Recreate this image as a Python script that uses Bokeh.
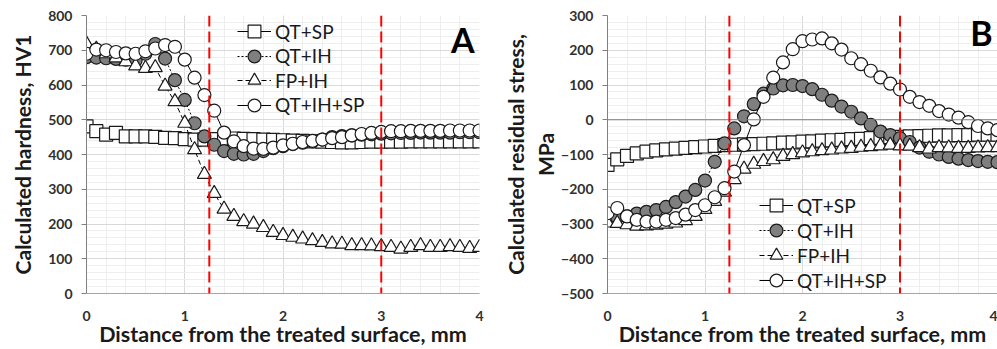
from bokeh.plotting import figure
from bokeh.models import Span, Label, Legend, LegendItem, SingleIntervalTicker, Range1d
from bokeh.layouts import row
from bokeh.embed import file_html
from bokeh.resources import INLINE

# ---------------- data ----------------
depth_mm = [0.0, 0.1, 0.2, 0.3, 0.4, 0.5, 0.6, 0.7, 0.8, 0.9,
            1.0, 1.1, 1.2, 1.3, 1.4, 1.5, 1.6, 1.7, 1.8, 1.9,
            2.0, 2.1, 2.2, 2.3, 2.4, 2.5, 2.6, 2.7, 2.8, 2.9,
            3.0, 3.1, 3.2, 3.3, 3.4, 3.5, 3.6, 3.7, 3.8, 3.9, 4.0]

series_names = ["QT+SP", "QT+IH", "FP+IH", "QT+IH+SP"]

# Panel A: calculated hardness, HV1
hard_qt_sp = [481, 467, 457, 462, 452, 452, 452, 451, 448, 447,
              444, 443, 443, 444, 445, 446, 445, 444, 443, 442,
              441, 440, 439, 438, 437, 436, 435, 435, 436, 437,
              437, 437, 437, 438, 438, 438, 438, 438, 438, 438, 438]
hard_qt_ih = [680, 679, 677, 675, 673, 671, 690, 718, 676, 614,
              557, 490, 452, 428, 410, 402, 400, 402, 410, 418,
              424, 430, 434, 438, 443, 450, 453, 455, 457, 458,
              460, 461, 462, 462, 463, 463, 463, 463, 464, 464, 464]
hard_fp_ih = [718, 703, 690, 678, 667, 655, 648, 650, 597, 552,
              490, 414, 343, 288, 243, 222, 207, 200, 190, 176,
              167, 162, 157, 152, 147, 143, 142, 138, 138, 137,
              135, 133, 128, 133, 138, 133, 133, 135, 133, 130, 133]
hard_qt_ih_sp = [690, 702, 700, 695, 691, 690, 697, 705, 715, 710,
                 673, 621, 571, 526, 463, 438, 424, 417, 416, 420,
                 426, 431, 436, 439, 443, 447, 450, 455, 459, 462,
                 465, 467, 467, 468, 468, 468, 468, 469, 469, 469, 469]

# Panel B: calculated residual stress, MPa
stress_qt_sp = [-130, -114, -104, -97, -92, -88, -85, -83, -81, -79,
                -77, -75, -73, -72, -71, -70, -69, -68, -66, -65,
                -63, -62, -60, -59, -58, -56, -55, -53, -52, -50,
                -49, -48, -47, -46, -45, -45, -44, -44, -43, -43, -43]
stress_qt_ih = [-280, -281, -278, -270, -265, -260, -251, -237, -221, -202,
                -175, -121, -68, -25, 10, 45, 75, 90, 99, 100,
                97, 88, 72, 55, 38, 23, 4, -15, -34, -44,
                -53, -64, -80, -92, -100, -107, -112, -116, -119, -121, -122]
stress_fp_ih = [-297, -298, -302, -306, -305, -303, -300, -297, -290, -278,
                -258, -235, -208, -172, -142, -128, -120, -115, -105, -100,
                -95, -92, -89, -87, -84, -82, -79, -77, -75, -73,
                -75, -76, -80, -84, -80, -81, -82, -82, -81, -80, -80]
stress_qt_ih_sp = [-269, -254, -278, -288, -293, -293, -288, -283, -273, -260,
                   -246, -223, -197, -149, -73, 1, 66, 121, 165, 203,
                   226, 231, 234, 220, 202, 177, 160, 141, 122, 104,
                   87, 66, 51, 40, 25, 15, 6, -7, -18, -25, -30]

zone_limits_mm = [1.25, 3.0]

x_axis_title = "Distance from the treated surface, mm"

# ---------------- style ----------------
FONT = "Lato"
styles = {
    "QT+SP":    dict(marker="square", fill="white",   dash="solid", size=13),
    "QT+IH":    dict(marker="circle", fill="#7f7f7f", dash="2 2",   size=13),
    "FP+IH":    dict(marker="triangle", fill="white", dash="5 3",   size=14),
    "QT+IH+SP": dict(marker="circle", fill="white",   dash="solid", size=13),
}


def make_panel(width, border_left, border_right, y0, y1, ylabel, series,
               letter, letter_x, letter_y, legend_x, legend_y0, legend_pitch,
               ylabel_standoff, zero_line=False):
    p = figure(width=width, height=349, output_backend="svg", toolbar_location=None,
               x_range=Range1d(0, 4), y_range=Range1d(y0, y1),
               min_border_left=border_left, min_border_right=border_right,
               min_border_top=15, min_border_bottom=54)
    p.outline_line_color = None
    p.background_fill_color = "white"

    p.xaxis.ticker = SingleIntervalTicker(interval=1, num_minor_ticks=5)
    p.yaxis.ticker = SingleIntervalTicker(interval=100, num_minor_ticks=5)

    for g in (p.xgrid, p.ygrid):
        g.grid_line_color = "#d9d9d9"
        g.grid_line_width = 1
        g.minor_grid_line_color = "#eeeeee"
        g.minor_grid_line_width = 1

    p.xaxis.axis_line_color = "#a6a6a6"
    p.xaxis.major_tick_line_color = None
    p.xaxis.minor_tick_line_color = None
    p.xaxis.major_label_standoff = 11
    p.xaxis.axis_label = x_axis_title
    p.xaxis.axis_label_standoff = -3

    p.yaxis.axis_line_color = "#808080"
    p.yaxis.major_tick_line_color = "#808080"
    p.yaxis.major_tick_out = 5
    p.yaxis.major_tick_in = 0
    p.yaxis.minor_tick_line_color = None
    p.yaxis.major_label_standoff = 9
    p.yaxis.axis_label = ylabel
    p.yaxis.axis_label_standoff = ylabel_standoff

    for ax in (p.xaxis, p.yaxis):
        ax.major_label_text_font = FONT
        ax.major_label_text_font_style = "bold"
        ax.major_label_text_font_size = "14px"
        ax.major_label_text_color = "#303030"
        ax.axis_label_text_font = FONT
        ax.axis_label_text_font_style = "bold"
        ax.axis_label_text_color = "#1a1a1a"
    p.xaxis.axis_label_text_font_size = "21.5px"
    p.yaxis.axis_label_text_font_size = "21px"

    if zero_line:
        p.add_layout(Span(location=0, dimension="width", line_color="#808080", line_width=1))

    for z in zone_limits_mm:
        p.add_layout(Span(location=z, dimension="height", line_color="#ff0000",
                          line_width=2, line_dash="11 5"))

    for i, (name, vals) in enumerate(zip(series_names, series)):
        st = styles[name]
        lr = p.line(depth_mm, vals, line_color="black", line_width=1, line_dash=st["dash"])
        sr = p.scatter(depth_mm, vals, marker=st["marker"], size=st["size"],
                       fill_color=st["fill"], line_color="#1a1a1a", line_width=1.2)
        leg = Legend(items=[LegendItem(label=name, renderers=[lr, sr])],
                     location=(legend_x, legend_y0 - i * legend_pitch),
                     orientation="vertical",
                     background_fill_alpha=0, border_line_color=None,
                     padding=0, margin=0, spacing=0,
                     glyph_width=34, glyph_height=32, label_height=32,
                     label_standoff=4, label_text_font=FONT,
                     label_text_font_size="19px", label_text_color="#1a1a1a")
        p.add_layout(leg)

    p.add_layout(Label(x=letter_x, y=letter_y, text=letter, text_font=FONT,
                       text_font_style="bold", text_font_size="34px",
                       text_align="right", text_baseline="middle",
                       text_color="black"))
    return p


pA = make_panel(500, 86, 21, 0, 800, "Calculated hardness, HV1",
                [hard_qt_sp, hard_qt_ih, hard_fp_ih, hard_qt_ih_sp],
                "A", 3.95, 731, 151, 246, 24.5, 10)
pB = make_panel(497, 105, 0, -500, 300, "Calculated residual stress,\nMPa",
                [stress_qt_sp, stress_qt_ih, stress_fp_ih, stress_qt_ih_sp],
                "B", 3.95, 252, 152, 72, 25, 0, zero_line=True)

layout = row(pA, pB)
open("out.html", "w").write(file_html(layout, INLINE))
